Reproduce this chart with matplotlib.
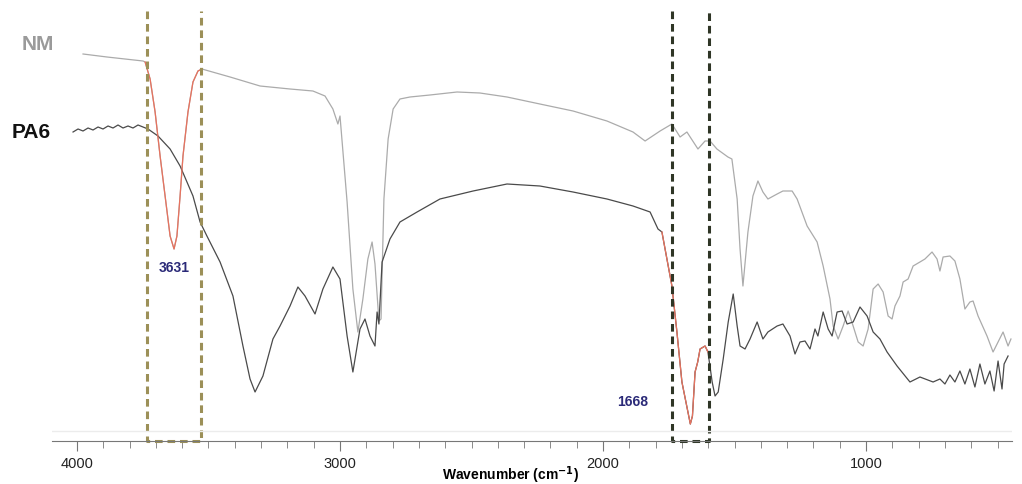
import numpy as np
import matplotlib.pyplot as plt

plt.rcParams['font.family'] = ['Liberation Sans', 'DejaVu Sans']
plt.rcParams['lines.scale_dashes'] = False

# NM spectrum (wavenumber, transmittance a.u.)
nm_wn = [3977, 3886, 3749, 3741, 3722, 3703, 3684, 3665, 3646, 3631, 3620, 3608,
         3597, 3578, 3559, 3540, 3525, 3418, 3304, 3190, 3103, 3057, 3027, 3008,
         3000, 2973, 2951, 2932, 2913, 2894, 2878, 2867, 2852, 2844, 2833, 2817,
         2798, 2772, 2734, 2658, 2555, 2468, 2365, 2240, 2114, 1985, 1886, 1840,
         1783, 1738, 1707, 1681, 1639, 1612, 1593, 1567, 1525, 1510, 1490, 1479,
         1468, 1449, 1430, 1411, 1392, 1373, 1338, 1316, 1281, 1262, 1224, 1186,
         1163, 1137, 1125, 1106, 1087, 1068, 1049, 1030, 1011, 992, 973, 954,
         935, 916, 901, 890, 871, 859, 840, 821, 795, 776, 749, 730, 719, 707,
         681, 662, 643, 624, 605, 593, 574, 540, 517, 498, 479, 460, 449]
nm_t = [387, 384, 380, 379, 362, 329, 285, 245, 205, 192, 205, 245,
        285, 329, 359, 370, 372, 364, 355, 352, 350, 345, 332, 317,
        325, 239, 152, 109, 142, 182, 199, 177, 120, 122, 242, 302,
        332, 342, 344, 346, 349, 348, 344, 337, 330, 320, 309, 300,
        310, 317, 304, 309, 292, 300, 300, 292, 284, 282, 242, 192,
        155, 209, 245, 260, 249, 242, 247, 250, 250, 242, 215, 199,
        175, 142, 115, 102, 115, 130, 115, 99, 95, 112, 152, 157,
        149, 125, 122, 135, 145, 159, 162, 175, 179, 182, 189, 182, 170, 184,
        185, 180, 162, 132, 139, 140, 125, 105, 89, 99, 109, 95, 102]

# PA6 spectrum
pa6_wn = [4015, 3996, 3977, 3958, 3939, 3920, 3901, 3882, 3863, 3844, 3825, 3806,
          3787, 3768, 3749, 3730, 3692, 3646, 3608, 3559, 3532, 3506, 3456, 3407,
          3369, 3342, 3323, 3293, 3255, 3228, 3190, 3160, 3133, 3095, 3065, 3027,
          3000, 2973, 2951, 2924, 2905, 2886, 2867, 2859, 2852, 2840, 2810, 2772,
          2707, 2620, 2494, 2365, 2240, 2114, 1985, 1886, 1821, 1791, 1776, 1757,
          1738, 1719, 1700, 1668, 1660, 1650, 1640, 1631, 1612, 1601, 1585, 1574,
          1562, 1543, 1524, 1505, 1490, 1479, 1460, 1441, 1414, 1392, 1373, 1338,
          1316, 1289, 1270, 1251, 1232, 1213, 1194, 1183, 1163, 1144, 1129, 1110,
          1091, 1072, 1049, 1023, 996, 973, 947, 920, 882, 833, 795, 745, 719,
          700, 681, 662, 643, 624, 605, 586, 567, 548, 529, 513, 498, 483, 475, 460]
pa6_t = [309, 312, 310, 313, 311, 314, 312, 315, 313, 316, 313, 315,
         313, 316, 314, 312, 305, 292, 275, 245, 219, 205, 179, 145,
         95, 62, 49, 65, 102, 115, 135, 154, 145, 127, 152, 174,
         162, 105, 69, 112, 122, 105, 95, 129, 117, 179, 202, 219,
         229, 242, 250, 257, 255, 249, 242, 235, 229, 212, 209, 182,
         155, 109, 59, 17, 25, 69, 79, 92, 95, 89, 59, 45,
         49, 82, 119, 147, 115, 95, 92, 102, 119, 102, 109, 115,
         117, 105, 87, 99, 100, 92, 112, 105, 129, 112, 105, 129,
         130, 117, 119, 134, 125, 109, 102, 89, 75, 59, 64, 59, 62,
         57, 66, 59, 70, 57, 72, 54, 77, 57, 70, 50, 80, 52, 77, 85]

# highlighted bands and the dashed boxes around them
nm_band = (3741, 3525)
pa6_band = (1776, 1601)
box_left = (3734, 3529)
box_right = (1738, 1597)

fig = plt.figure(figsize=(10.22, 4.85), dpi=100)
ax = fig.add_axes([52 / 1022, 43 / 485, 960 / 1022, 442 / 485])

nm_wn = np.array(nm_wn)
nm_t = np.array(nm_t)
pa6_wn = np.array(pa6_wn)
pa6_t = np.array(pa6_t)

ax.plot(nm_wn, nm_t, color='#ababab', lw=0.9)
ax.plot(pa6_wn, pa6_t, color='#4a4a4a', lw=0.9)

m = (nm_wn <= nm_band[0]) & (nm_wn >= nm_band[1])
ax.plot(nm_wn[m], nm_t[m], color='#e8725e', lw=0.9)
m = (pa6_wn <= pa6_band[0]) & (pa6_wn >= pa6_band[1])
ax.plot(pa6_wn[m], pa6_t[m], color='#e8725e', lw=0.9)

for (a, b), c in [(box_left, '#9c9058'), (box_right, '#2f3626')]:
    ax.plot([a, a, b, b], [430, 0, 0, 430], color=c, lw=2.2,
            ls=(0, (5.5, 3.5)), clip_on=False)

ax.axhline(10, color='#ececec', lw=1)

ax.text(3631, 174, '3631', color='#2b2a78', fontsize=10, fontweight='bold',
        ha='center', va='center')
ax.text(1886, 40, '1668', color='#2b2a78', fontsize=10, fontweight='bold',
        ha='center', va='center')
fig.text(38 / 1022, 1 - 45 / 485, 'NM', color='#9a9a9a', fontsize=15,
         fontweight='bold', ha='center', va='center')
fig.text(31 / 1022, 1 - 133 / 485, 'PA6', color='#111111', fontsize=15,
         fontweight='bold', ha='center', va='center')

ax.set_xlim(4095, 445)
ax.set_ylim(0, 442)
ax.set_xticks([4000, 3000, 2000, 1000])
ax.set_xticks(np.arange(500, 4100, 100), minor=True)
ax.tick_params(axis='x', which='major', length=7, color='#777777',
               labelsize=10.5, pad=4, labelcolor='#222222')
ax.tick_params(axis='x', which='minor', length=5, color='#777777')
ax.set_yticks([])
for s in ['top', 'left', 'right']:
    ax.spines[s].set_visible(False)
ax.spines['bottom'].set_color('#777777')
fig.text(510 / 1022, 1 - 475 / 485, r'Wavenumber (cm$^{\mathbf{-1}}$)',
         fontsize=10, fontweight='bold', ha='center', va='center')

fig.savefig('out.png', dpi=100)
